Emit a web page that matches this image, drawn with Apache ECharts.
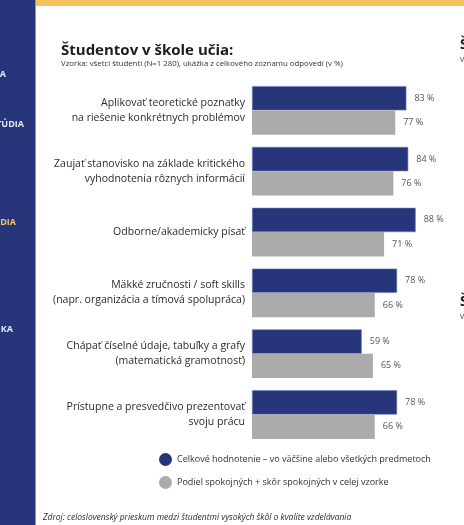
<!DOCTYPE html>
<html>
<head>
<meta charset="utf-8">
<style>
  html, body { margin: 0; padding: 0; background: #ffffff; }
  #chart { width: 464px; height: 525px; }
</style>
<script src="https://cdn.jsdelivr.net/npm/echarts@6.0.0/dist/echarts.min.js"></script>
</head>
<body>
<div id="chart"></div>
<script>
var categories = [
  'Aplikovať teoretické poznatky\nna riešenie konkrétnych problémov',
  'Zaujať stanovisko na základe kritického\nvyhodnotenia rôznych informácií',
  'Odborne/akademicky písať',
  'Mäkké zručnosti / soft skills\n(napr. organizácia a tímová spolupráca)',
  'Chápať číselné údaje, tabuľky a grafy\n(matematická gramotnosť)',
  'Prístupne a presvedčivo prezentovať\nsvoju prácu'
];
var seriesNames = [
  'Celkové hodnotenie – vo väčšine alebo všetkých predmetoch',
  'Podiel spokojných + skôr spokojných v celej vzorke'
];
var valuesTaught = [83, 84, 88, 78, 59, 78];
var valuesSatisfied = [77, 76, 71, 66, 65, 66];

var NAVY = '#27357a';
var GRAY = '#ababab';
var FONT = 'Open Sans';

var chart = echarts.init(document.getElementById('chart'), null, { renderer: 'canvas' });

chart.setOption({
  backgroundColor: '#ffffff',
  animation: false,
  textStyle: { fontFamily: FONT },
  title: {
    text: 'Študentov v škole učia:',
    subtext: 'Vzorka: všetci študenti (N=1 280), ukážka z celkového zoznamu odpovedí (v %)',
    left: 56,
    top: 38,
    itemGap: 2,
    textStyle: { fontFamily: FONT, fontSize: 15, fontWeight: 'bold', color: '#1c1c1c' },
    subtextStyle: { fontFamily: FONT, fontSize: 7.8, color: '#333333' }
  },
  legend: {
    orient: 'vertical',
    left: 154,
    top: 448,
    itemWidth: 13,
    itemHeight: 13,
    itemGap: 10,
    icon: 'circle',
    itemStyle: { borderWidth: 0 },
    textStyle: { fontFamily: FONT, fontSize: 9, color: '#333333' },
    data: seriesNames
  },
  grid: { left: 252, right: 26, top: 80, bottom: 80, containLabel: false },
  xAxis: {
    type: 'value',
    min: 0,
    max: 100,
    show: false
  },
  yAxis: {
    type: 'category',
    inverse: true,
    data: categories,
    axisLine: { show: false },
    axisTick: { show: false },
    axisLabel: {
      margin: 7,
      fontFamily: FONT,
      fontSize: 10.5,
      lineHeight: 15,
      color: '#2b2b2b',
      align: 'right'
    }
  },
  series: [
    {
      name: seriesNames[0],
      type: 'bar',
      data: valuesTaught,
      barGap: '0%',
      barCategoryGap: '20%',
      itemStyle: { color: NAVY, borderColor: '#6f7fc0', borderWidth: 0.6 },
      label: {
        show: true, position: 'right', distance: 8,
        formatter: '{c} %', fontFamily: FONT, fontSize: 9, color: '#555555'
      }
    },
    {
      name: seriesNames[1],
      type: 'bar',
      data: valuesSatisfied,
      barGap: '0%',
      barCategoryGap: '20%',
      itemStyle: { color: GRAY },
      label: {
        show: true, position: 'right', distance: 8,
        formatter: '{c} %', fontFamily: FONT, fontSize: 9, color: '#555555'
      }
    }
  ],
  graphic: [
    { type: 'rect', left: 0, top: 0, shape: { width: 35, height: 525 }, style: { fill: '#27357a' }, silent: true },
    { type: 'rect', left: 35, top: 0, shape: { width: 1, height: 525 }, style: { fill: '#8d96c4' }, silent: true },
    { type: 'rect', left: 36, top: 0, shape: { width: 428, height: 6 }, style: { fill: '#f4c35a' }, silent: true },
    { type: 'text', x: 6, y: 70, style: { text: 'A', fill: '#e6e8f2', font: 'bold 9px "Open Sans"', textAlign: 'right' } },
    { type: 'text', x: 24, y: 120, style: { text: 'ŠTÚDIA', fill: '#e6e8f2', font: 'bold 9px "Open Sans"', textAlign: 'right' } },
    { type: 'text', x: 16, y: 218, style: { text: 'MÉDIA', fill: '#f4c35a', font: 'bold 9px "Open Sans"', textAlign: 'right' } },
    { type: 'text', x: 13, y: 325, style: { text: 'TECHNIKA', fill: '#e6e8f2', font: 'bold 9px "Open Sans"', textAlign: 'right' } },
    { type: 'text', x: 460, y: 38, style: { text: 'Študenti', fill: '#1c1c1c', font: 'bold 14px "Open Sans"' } },
    { type: 'text', x: 460, y: 56, style: { text: 'Vzorka', fill: '#333333', font: '7px "Open Sans"' } },
    { type: 'text', x: 460, y: 295, style: { text: 'Študenti', fill: '#1c1c1c', font: 'bold 14px "Open Sans"' } },
    { type: 'text', x: 460, y: 313, style: { text: 'Vzorka', fill: '#333333', font: '7px "Open Sans"' } },
    { type: 'text', x: 43, y: 513, style: { text: 'Zdroj: celoslovenský prieskum medzi študentmi vysokých škôl o kvalite vzdelávania', fill: '#2b2b2b', font: 'italic 8.5px "Open Sans"' } }
  ]
});
</script>
</body>
</html>
